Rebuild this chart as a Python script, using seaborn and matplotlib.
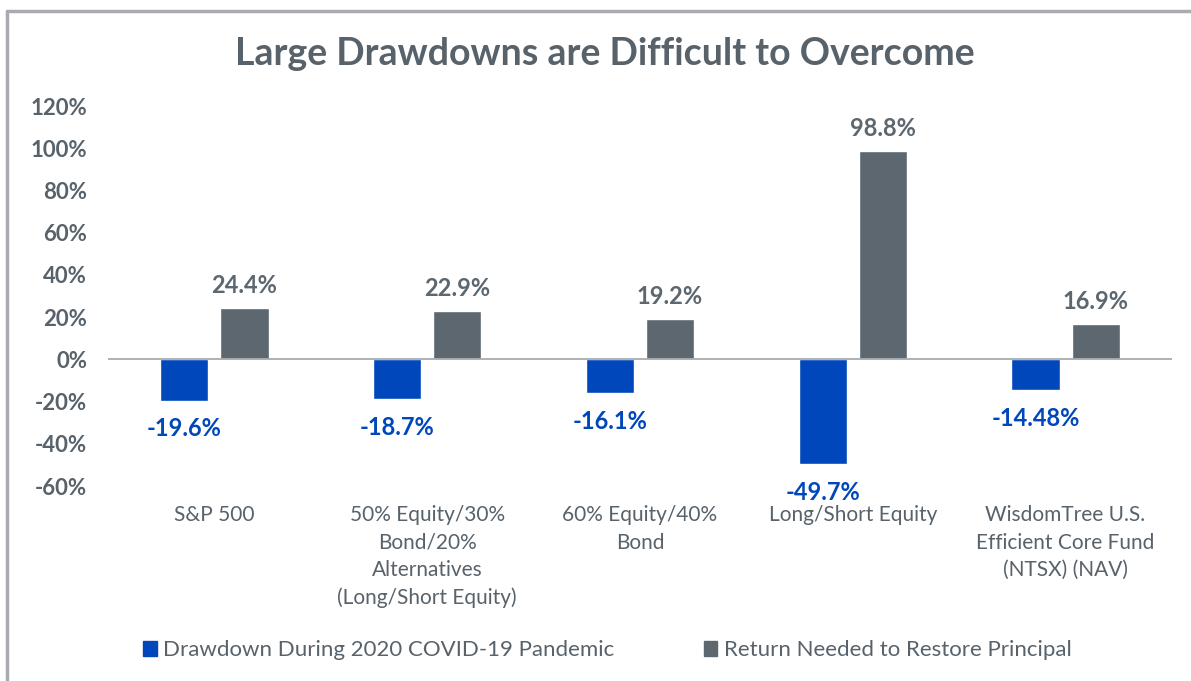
import matplotlib
matplotlib.use("Agg")
import matplotlib.pyplot as plt
import matplotlib.lines as mlines
import matplotlib.patches as mpatches
import seaborn as sns
import pandas as pd

# --- data ---
categories = [
    "S&P 500",
    "50% Equity/30%\nBond/20%\nAlternatives\n(Long/Short Equity)",
    "60% Equity/40%\nBond",
    "Long/Short Equity",
    "WisdomTree U.S.\nEfficient Core Fund\n(NTSX) (NAV)",
]
drawdown = [-19.6, -18.7, -16.1, -49.7, -14.48]
drawdown_txt = ["-19.6%", "-18.7%", "-16.1%", "-49.7%", "-14.48%"]
restore = [24.4, 22.9, 19.2, 98.8, 16.9]
restore_txt = ["24.4%", "22.9%", "19.2%", "98.8%", "16.9%"]
series = ["Drawdown During 2020 COVID-19 Pandemic", "Return Needed to Restore Principal"]
yticks = [-60, -40, -20, 0, 20, 40, 60, 80, 100, 120]

BLUE = "#0047BB"
GRAY = "#5C6770"
TXT = "#58626B"

sns.set_theme(style="white")
plt.rcParams['font.family'] = ['Lato', 'DejaVu Sans']

df = pd.DataFrame({
    "cat": categories * 2,
    "val": drawdown + restore,
    "series": [series[0]] * 5 + [series[1]] * 5,
})

fig = plt.figure(figsize=(11.91, 6.81), dpi=100)
ax = fig.add_axes([0.0907, 0.2863, 0.8933, 0.558])

sns.barplot(data=df, x="cat", y="val", hue="series", palette=[BLUE, GRAY],
            width=0.565, gap=0.2, ax=ax, legend=False, saturation=1)

ax.set_ylim(-60, 120)
ax.set_xlim(-0.5, 4.5)
ax.set_yticks(yticks)
ax.set_yticklabels([f"{t}%" for t in yticks], fontsize=16, fontweight='bold', color=TXT)
ax.set_xticks(range(len(categories)))
ax.set_xticklabels(categories, fontsize=15, fontweight='normal', color=TXT, linespacing=1.45)
ax.tick_params(axis='y', length=0, pad=15)
ax.tick_params(axis='x', length=0, pad=14)
ax.set_xlabel("")
ax.set_ylabel("")
for s in ax.spines.values():
    s.set_visible(False)
ax.axhline(0, color="#A7ABAF", lw=1.3, zorder=3)

# data labels
for c, txts, col in zip(ax.containers, [drawdown_txt, restore_txt], [BLUE, GRAY]):
    for bar, t in zip(c, txts):
        h = bar.get_height()
        x = bar.get_x() + bar.get_width() / 2
        if h < 0:
            ax.annotate(t, (x, h), xytext=(0, -12), textcoords="offset points",
                        ha='center', va='top', fontsize=17, fontweight='bold', color=col)
        else:
            ax.annotate(t, (x, h), xytext=(0, 8), textcoords="offset points",
                        ha='center', va='bottom', fontsize=17, fontweight='bold', color=col)

fig.suptitle("Large Drawdowns are Difficult to Overcome", x=0.508, y=0.945,
             fontsize=27, fontweight='bold', color=TXT)

handles = [mpatches.Patch(color=BLUE, label=series[0]),
           mpatches.Patch(color=GRAY, label=series[1])]
leg = fig.legend(handles=handles, loc='center', bbox_to_anchor=(0.51, 0.045), ncol=2,
                 frameon=False, fontsize=16, handlelength=0.6, handleheight=0.6,
                 handletextpad=0.3, columnspacing=4.0)
for t in leg.get_texts():
    t.set_color(TXT)

# outer frame (top and left edges visible)
fig.add_artist(mlines.Line2D([7 / 1191, 7 / 1191], [0, 1 - 11 / 681], color="#A8ACB0", lw=2.5))
fig.add_artist(mlines.Line2D([7 / 1191, 1], [1 - 11 / 681, 1 - 11 / 681], color="#A8ACB0", lw=2.5))

fig.savefig("out.png", dpi=100)
